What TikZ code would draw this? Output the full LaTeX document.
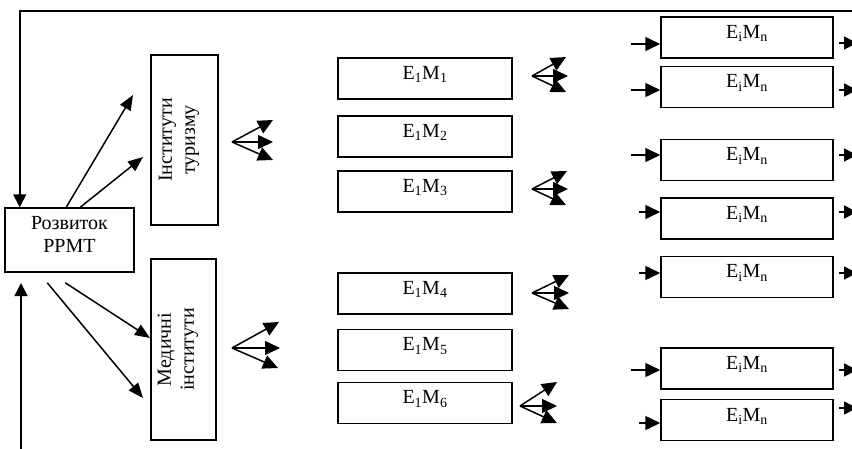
\documentclass[tikz,border=0pt]{standalone}
\usepackage{fontspec}
\setmainfont{Liberation Serif}
\usetikzlibrary{arrows.meta}
\tikzset{
  box/.style={draw, line width=1.5pt, inner sep=0pt},
  txt/.style={font=\fontsize{20}{23}\selectfont, inner sep=0pt, align=center},
  arr/.style={line width=1.5pt, -{Triangle[length=15pt,width=12pt]}},
  fanarr/.style={line width=1.5pt, -{Triangle[length=15pt,width=14pt]}},
  ioarr/.style={line width=1.5pt, -{Triangle[length=15pt,width=14pt]}},
  ebox/.style={box, minimum width=174pt, minimum height=41pt},
  mbox/.style={box, minimum width=172pt, minimum height=41pt},
}
\newcommand{\fanfrom}[5]{% name, origin, tip1, tip2, tip3
  \coordinate (#1o) at #2;
  \coordinate (#1a) at #3;
  \coordinate (#1b) at #4;
  \coordinate (#1c) at #5;
  \draw[fanarr] (#1o) -- (#1a);
  \draw[fanarr] (#1o) -- (#1b);
  \draw[fanarr] (#1o) -- (#1c);
}
\begin{document}
\begin{tikzpicture}[x=1pt,y=-1pt]
\useasboundingbox (0,0) rectangle (852,448);
\clip (0,0) rectangle (852,448);

% main boxes
\node[box, minimum width=129pt, minimum height=64pt] (rozv) at (69.5,240) {};
\node[txt] (rozvT) at ([yshift=6pt]rozv.center) {Розвиток\\РРМТ};

\node[box, minimum width=67pt, minimum height=170pt] (inst) at (184.5,140) {};
\node[txt, rotate=90] (instT) at ([xshift=-5.5pt]inst.center) {Інститути\\туризму};

\node[box, minimum width=65pt, minimum height=181pt] (med) at (183.5,349.5) {};
\node[txt, rotate=90] (medT) at ([xshift=-5.5pt]med.center) {Медичні\\інститути};

% E1M boxes
\foreach \i/\y in {1/78.5, 2/136.5, 3/191.5, 4/293.5, 5/350, 6/403} {
  \node[ebox] (e\i) at (425,\y) {};
  \node[txt] (e\i T) at ([yshift=4pt]e\i.center) {E\textsubscript{1}M\textsubscript{\i}};
}

% EiMn boxes
\foreach \i/\y in {1/37.5, 2/87, 3/160, 4/218.5, 5/277, 6/368.5, 7/420} {
  \node[mbox] (m\i) at (747,\y) {};
  \node[txt] (m\i T) at ([yshift=4pt]m\i.center) {E\textsubscript{i}M\textsubscript{n}};
}

% feedback loop
\coordinate (fbtop) at (856,11);
\draw[arr, -{Triangle[length=13pt,width=13pt]}] (fbtop) -| ([xshift=15.5pt]rozv.north west);
\coordinate (fbbot) at (21,452);
\coordinate (fbend) at (21,283);
\draw[arr, -{Triangle[length=13pt,width=13pt]}] (fbbot) -- (fbend);

% arrows from Rozvytok
\coordinate (a1e) at (133,95);
\coordinate (a2e) at (143,157);
\coordinate (a3s) at ([xshift=43pt,yshift=-10pt]rozv.south west);
\coordinate (a3e) at (143,398);
\coordinate (a4s) at ([xshift=61pt,yshift=-10pt]rozv.south west);
\coordinate (a4e) at (150,338);
\draw[arr] ([xshift=62pt]rozv.north west) -- (a1e);
\draw[arr] ([xshift=76pt]rozv.north west) -- (a2e);
\draw[arr] (a3s) -- (a3e);
\draw[arr] (a4s) -- (a4e);

% fans
\fanfrom{fi}{(232,142)}{(273,120)}{(273,142)}{(273,160)}
\fanfrom{fm}{(232,348)}{(279,322)}{(280,348)}{(278,368)}
\fanfrom{fa}{(532,76)}{(566,57)}{(568,76)}{(566,92)}
\fanfrom{fb}{(532,189)}{(567,171)}{(568,189)}{(566,205)}
\fanfrom{fc}{(532,293)}{(569,275)}{(569,293)}{(569,309)}
\fanfrom{fd}{(520,406)}{(557,382)}{(557,406)}{(557,423)}

% inputs into EiMn
\foreach \i/\dy/\sx in {1/6.5/29, 2/3/29, 3/-5/29, 4/-6.5/21, 5/-4/21, 6/1.5/29, 7/3/21} {
  \coordinate (in\i) at ([xshift=-\sx pt,yshift=-\dy pt]m\i.west);
  \draw[ioarr] (in\i) -- ([yshift=-\dy pt]m\i.west);
}
% outputs from EiMn
\foreach \i/\y in {1/43, 2/90, 3/155, 4/212, 5/273, 6/370, 7/408} {
  \coordinate (out\i) at (857,\y);
  \draw[ioarr, -{Triangle[length=13pt,width=13pt]}] ([xshift=5pt]m\i.east |- out\i) -- (out\i);
}
\end{tikzpicture}
\end{document}
